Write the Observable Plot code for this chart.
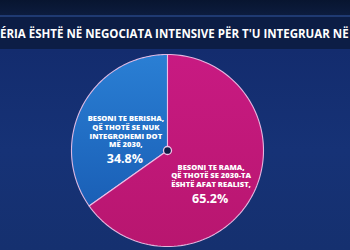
<!DOCTYPE html>
<html><head><meta charset="utf-8">
<script src="https://cdn.jsdelivr.net/npm/d3@7"></script>
<script src="https://cdn.jsdelivr.net/npm/@observablehq/plot@0.6"></script>
<style>
html,body{margin:0;padding:0;width:350px;height:250px;overflow:hidden;background:#14306f;}
#wrap{position:relative;width:350px;height:250px;overflow:hidden;background:linear-gradient(180deg,#12296a 0%,#163276 60%,#15306f 100%);}
#band0{position:absolute;left:0;top:0;width:350px;height:15px;background:linear-gradient(180deg,#081530,#0c1c3e);}
#line{position:absolute;left:0;top:15px;width:350px;height:2px;background:#1f3a72;}
#title{position:absolute;left:0;top:17px;width:350px;height:32px;background:#0c1d45;color:#fff;font:700 11.5px "Open Sans",sans-serif;line-height:33px;white-space:nowrap;overflow:hidden;}
#title span{position:absolute;left:0px;}
#chart{position:absolute;left:0;top:0;}
</style></head>
<body>
<div id="wrap">
  <div id="band0"></div><div id="line"></div>
  <div id="title"><span>ÉRIA ËSHTË NË NEGOCIATA INTENSIVE PËR T'U INTEGRUAR NË</span></div>
  <div id="chart"></div>
</div>
<script>
const names = ["Berisha", "Rama"];
const labels = ["BESONI TE BERISHA,\nQË THOTË SE NUK\nINTEGROHEMI DOT\nMË 2030,", "BESONI TE RAMA,\nQË THOTË SE 2030-TA\nËSHTË AFAT REALIST,"];
const values = [34.8, 65.2];
const pctLabels = ["34.8%", "65.2%"];
const colors = ["url(#gBlue)", "url(#gPink)"];

const arcs = d3.pie().sort(null).startAngle(0).endAngle(-2 * Math.PI)(values);
const slices = arcs.map((a, i) => {
  const n = 120;
  const ring = [[0, 0]];
  for (let k = 0; k <= n; k++) {
    const t = a.startAngle + (a.endAngle - a.startAngle) * k / n;
    ring.push([Math.sin(t), Math.cos(t)]);
  }
  ring.push([0, 0]);
  const mid = (a.startAngle + a.endAngle) / 2;
  return {
    name: names[i], label: labels[i], pct: pctLabels[i],
    lines: labels[i].split("\n").length,
    geom: {type: "Polygon", coordinates: [ring]},
    cx: 0.5 * Math.sin(mid), cy: 0.5 * Math.cos(mid)
  };
});
const center = [{x: 0, y: 0}];
const domain = {type: "MultiPoint", coordinates: [[-1, -1], [1, 1]]};
const fs = 7.6;
const lineH = 8.6;

const defs = () => {
  const g = d3.create("svg:defs");
  const b = g.append("linearGradient").attr("id", "gBlue").attr("x1", 0).attr("y1", 0).attr("x2", 0).attr("y2", 1);
  b.append("stop").attr("offset", 0).attr("stop-color", "#2a7fd4");
  b.append("stop").attr("offset", 1).attr("stop-color", "#1a5fb6");
  const p = g.append("linearGradient").attr("id", "gPink").attr("x1", 0).attr("y1", 0).attr("x2", 0).attr("y2", 1);
  p.append("stop").attr("offset", 0).attr("stop-color", "#c81a82");
  p.append("stop").attr("offset", 1).attr("stop-color", "#b8166f");
  return g.node();
};

const chart = Plot.plot({
  width: 350, height: 250,
  marginLeft: 71, marginRight: 87, marginTop: 54, marginBottom: 4,
  projection: {type: "reflect-y", domain, inset: 0},
  color: {domain: names, range: colors},
  style: {background: "transparent", overflow: "visible"},
  marks: [
    defs,
    Plot.geo(slices, {geometry: d => d.geom, fill: d => d.name, stroke: "#f2c4ea", strokeWidth: 1.1, strokeOpacity: 0.9}),
    Plot.text(slices, {x: "cx", y: "cy", text: "label", lineAnchor: "middle", dx: 1, dy: 3, fill: "white", fontSize: fs, fontWeight: 800, fontFamily: "Open Sans", lineHeight: lineH / fs, letterSpacing: 0.45}),
    ...slices.map(s => Plot.text([s], {x: "cx", y: "cy", text: "pct", lineAnchor: "middle", dy: 3 + (s.lines - 1) / 2 * lineH + 15, fill: "white", fontSize: 12.5, fontWeight: 700, fontFamily: "Open Sans", letterSpacing: 0.6})),
    Plot.dot(center, {x: "x", y: "y", r: 4, fill: "#0f1d45", stroke: "#f2c4ea", strokeWidth: 1.3})
  ]
});
document.getElementById("chart").appendChild(chart);
</script>
</body></html>
